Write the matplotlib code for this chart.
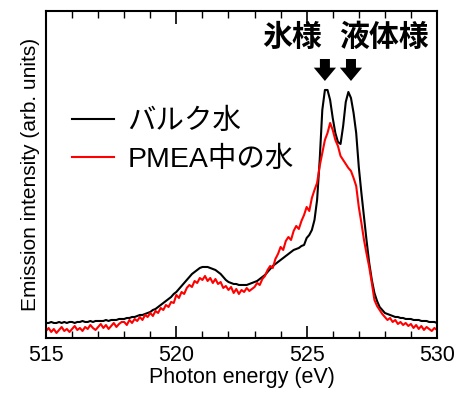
import matplotlib
matplotlib.use("Agg")
import matplotlib.pyplot as plt
import numpy as np

plt.rcParams['font.family'] = ['Liberation Sans', 'Noto Sans CJK JP', 'DejaVu Sans']

# photon energy grid (0.1 eV step)
energy = np.round(np.arange(515.0, 530.05, 0.1), 1)

bulk_water = [
    15, 15, 16, 15, 15, 16, 15, 16, 15, 16,
    16, 15, 16, 16, 17, 16, 16, 17, 16, 17,
    17, 17, 17, 18, 17, 18, 18, 18, 19, 19,
    19, 20, 20, 21, 21, 22, 23, 23, 24, 25,
    26, 28, 29, 31, 33, 35, 37, 39, 41, 44,
    46, 49, 52, 55, 58, 61, 64, 66, 68, 70,
    71, 71, 71, 70, 69, 68, 66, 64, 61, 58,
    56, 55, 54, 54, 53, 53, 53, 53, 54, 55,
    56, 57, 59, 61, 63, 66, 69, 72, 74, 76,
    78, 80, 82, 84, 86, 88, 89, 90, 92, 93,
    100, 103, 108, 118, 138, 178, 228, 248, 248, 238,
    220, 205, 196, 194, 212, 236, 246, 240, 225, 205,
    171, 145, 121, 97, 75, 58, 45, 37, 31, 28,
    25, 24, 23, 22, 21, 21, 20, 20, 19, 19,
    19, 18, 18, 18, 17, 17, 17, 16, 16, 16,
    15,
]

pmea_water = [
    7, 10, 6, 9, 5, 8, 11, 7, 9, 6,
    9, 12, 8, 10, 7, 11, 9, 13, 10, 8,
    11, 14, 10, 13, 9, 12, 15, 11, 14, 16,
    16, 13, 18, 15, 19, 17, 21, 18, 23, 21,
    25, 22, 27, 25, 30, 28, 33, 31, 36, 35,
    43, 40, 46, 44, 50, 53, 51, 57, 55, 60,
    58, 62, 57, 60, 55, 59, 54, 56, 50, 52,
    48, 51, 45, 49, 44, 48, 46, 50, 47, 49,
    51, 55, 53, 59, 62, 68, 72, 70, 79, 84,
    91, 88, 97, 101, 98, 107, 112, 109, 117, 123,
    131, 127, 140, 148, 155, 172, 185, 198, 205, 215,
    208, 198, 192, 182, 178, 174, 170, 167, 160, 152,
    131, 115, 98, 84, 71, 55, 38, 32, 28, 24,
    21, 18, 20, 16, 18, 14, 16, 13, 15, 12,
    14, 10, 13, 9, 12, 8, 11, 9, 7, 10,
    8,
]

labels = ["バルク水", "PMEA中の水"]
peak_names = ["氷様", "液体様"]
peak_pos = [525.7, 526.7]
label_pos = [524.45, 527.95]

fig = plt.figure(figsize=(4.57, 3.98), dpi=100)
ax = fig.add_axes([0.1007, 0.1508, 0.8555, 0.8216])

ax.plot(energy, bulk_water, color="black", lw=1.5, label=labels[0])
ax.plot(energy, pmea_water, color="#ff0000", lw=1.5, label=labels[1])

ax.set_xlim(515, 530)
ax.set_ylim(0, 327)
ax.set_xticks([515, 520, 525, 530])
ax.set_xticks(np.arange(515, 531, 1), minor=True)
ax.set_yticks([])
ax.tick_params(axis="x", which="major", direction="in", length=9, width=1.2,
               top=True, labelsize=15.5, pad=5)
ax.tick_params(axis="x", which="minor", direction="in", length=5, width=1.0, top=True)
for sp in ax.spines.values():
    sp.set_linewidth(1.5)

ax.set_xlabel("Photon energy (eV)", fontsize=15.5, labelpad=1)
ax.set_ylabel("Emission intensity (arb. units)", fontsize=15, labelpad=4)

ax.legend(loc="upper left", bbox_to_anchor=(0.0, 0.78), frameon=False,
          fontsize=20.5, handlelength=1.5, handletextpad=0.45, labelspacing=0.42)

for name, x in zip(peak_names, label_pos):
    ax.text(x, 300, name, fontsize=21.5, fontweight="bold", ha="center", va="center")
for x in peak_pos:
    ax.annotate("", xy=(x, 257), xytext=(x, 279),
                arrowprops=dict(arrowstyle="simple,head_length=0.6,head_width=1.0,tail_width=0.45",
                                mutation_scale=16, color="black", lw=0, shrinkA=0, shrinkB=0))

fig.savefig("out.png", dpi=100)
